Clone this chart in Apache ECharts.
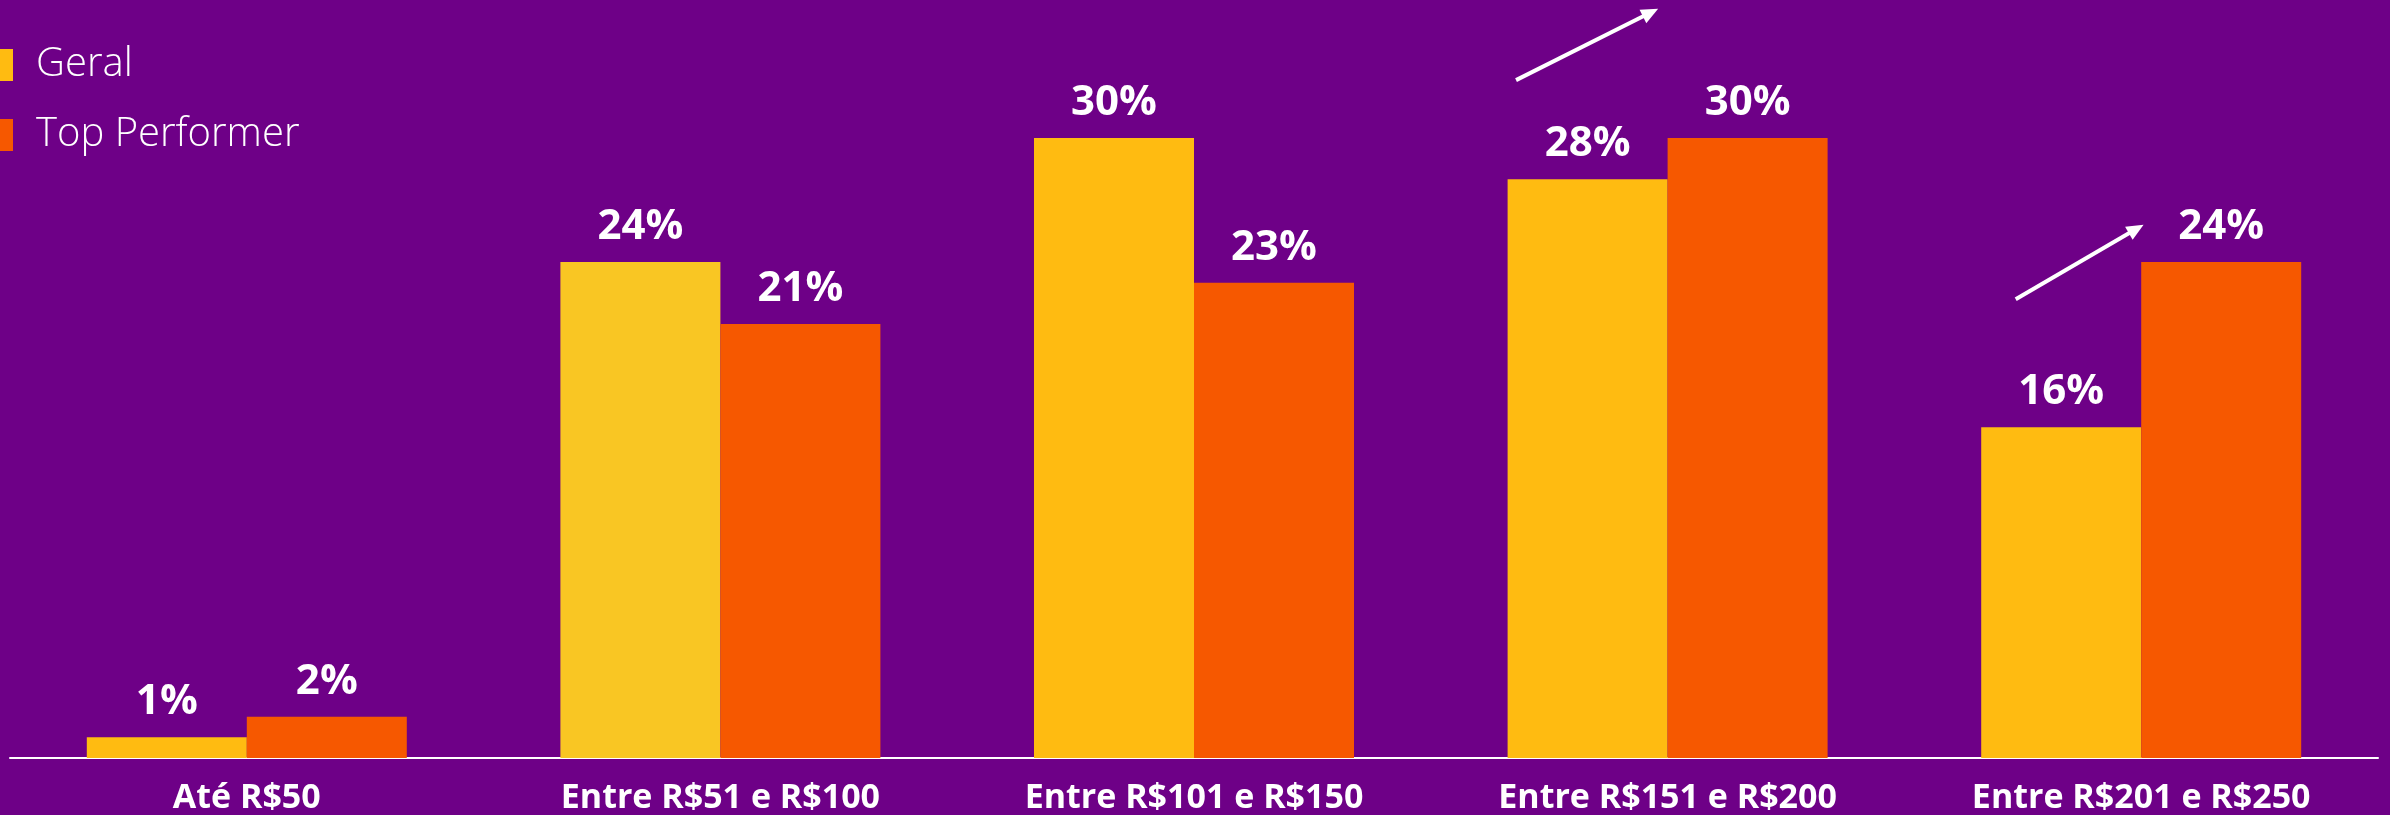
<!DOCTYPE html>
<html>
<head>
<meta charset="utf-8">
<style>
  html, body { margin: 0; padding: 0; background: #6E0087; }
  #chart { width: 2390px; height: 815px; }
</style>
<script src="https://cdn.jsdelivr.net/npm/echarts@6/dist/echarts.min.js"></script>
</head>
<body>
<div id="chart"></div>
<script>
// Ticket ranges and share of purchases (%)
const categories = ['Até R$50', 'Entre R$51 e R$100', 'Entre R$101 e R$150', 'Entre R$151 e R$200', 'Entre R$201 e R$250'];
const geral = [1, 24, 30, 28, 16];
const topPerformer = [2, 21, 23, 30, 24];
const seriesNames = ['Geral', 'Top Performer'];

// Trend arrows, in [category position, percent] units: [start, tip]
const arrows = [
  [[2.68, 32.8], [2.98, 36.25]],
  [[3.735, 22.2], [4.005, 25.8]]
];

const COLORS = { geral: '#FFBB11', geralAlt: '#F9C623', top: '#F65800', bg: '#6E0087' };

const chart = echarts.init(document.getElementById('chart'));

const labelStyle = {
  show: true,
  position: 'top',
  distance: 14,
  color: '#ffffff',
  fontFamily: '"Open Sans", sans-serif',
  fontWeight: 700,
  fontSize: 42,
  formatter: p => p.value + '%'
};

chart.setOption({
  backgroundColor: COLORS.bg,
  animation: false,
  legend: {
    orient: 'vertical',
    left: 0,
    top: 40,
    padding: 0,
    itemWidth: 13,
    itemHeight: 32,
    itemGap: 20,
    icon: 'rect',
    textStyle: {
      color: '#ffffff',
      fontFamily: '"Open Sans", sans-serif',
      fontWeight: 300,
      fontSize: 40,
      lineHeight: 38,
      padding: [0, 0, 12, 18]
    },
    data: seriesNames
  },
  grid: { left: 10, right: 12, top: 14, bottom: 56, containLabel: false },
  xAxis: [
    {
      type: 'category',
      data: categories,
      axisLine: { lineStyle: { color: '#ffffff', width: 2 } },
      axisTick: { show: false },
      axisLabel: {
        color: '#ffffff',
        fontFamily: '"Open Sans", sans-serif',
        fontWeight: 700,
        fontSize: 34,
        margin: 23,
        interval: 0
      }
    },
    {
      type: 'value',
      min: -0.5,
      max: 4.5,
      show: false
    }
  ],
  yAxis: {
    type: 'value',
    min: 0,
    max: 36,
    show: false,
    splitLine: { show: false }
  },
  series: [
    {
      name: seriesNames[0],
      type: 'bar',
      barWidth: 160,
      barGap: '0%',
      itemStyle: { color: COLORS.geral },
      label: labelStyle,
      data: geral.map((v, i) => i === 1 ? { value: v, itemStyle: { color: COLORS.geralAlt } } : v)
    },
    {
      name: seriesNames[1],
      type: 'bar',
      barWidth: 160,
      barGap: '0%',
      itemStyle: { color: COLORS.top },
      label: labelStyle,
      data: topPerformer
    }
  ]
});

// Draw the trend arrows through the axes' own scales
function toPx(pt) {
  return [
    chart.convertToPixel({ xAxisIndex: 1 }, pt[0]),
    chart.convertToPixel({ yAxisIndex: 0 }, pt[1])
  ];
}

const graphics = [];
arrows.forEach(([from, to]) => {
  const a = toPx(from);
  const b = toPx(to);
  const dx = b[0] - a[0], dy = b[1] - a[1];
  const len = Math.hypot(dx, dy);
  const ux = dx / len, uy = dy / len;
  const headLen = 17, headHalf = 7.5;
  const base = [b[0] - ux * headLen, b[1] - uy * headLen];
  graphics.push({
    type: 'line',
    shape: { x1: a[0], y1: a[1], x2: base[0] + ux * 2, y2: base[1] + uy * 2 },
    style: { stroke: '#ffffff', lineWidth: 4 }
  });
  graphics.push({
    type: 'polygon',
    shape: {
      points: [
        b,
        [base[0] - uy * headHalf, base[1] + ux * headHalf],
        [base[0] + uy * headHalf, base[1] - ux * headHalf]
      ]
    },
    style: { fill: '#ffffff' }
  });
});
chart.setOption({ graphic: graphics });
</script>
</body>
</html>
